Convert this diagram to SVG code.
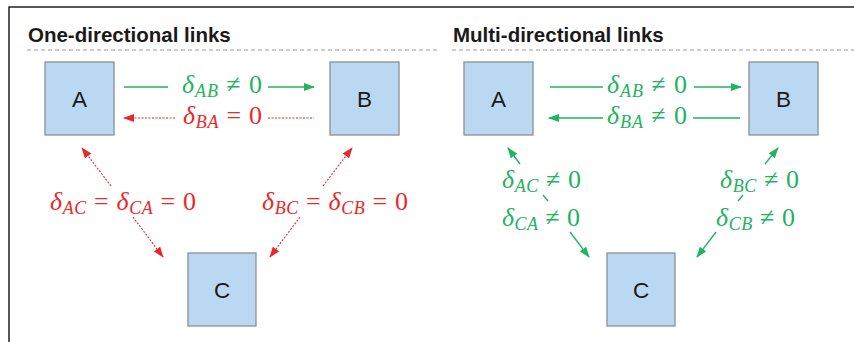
<svg xmlns="http://www.w3.org/2000/svg" width="854" height="342" viewBox="0 0 854 342">
<style>
.frame{fill:none;stroke:#222;stroke-width:1.5}
.sep{fill:none;stroke:#999;stroke-width:1.2;stroke-dasharray:4,3}
.title{font-family:"Liberation Sans",Arial,sans-serif;font-weight:bold;font-size:20.5px;fill:#1a1a1a}
.box{fill:#bad8f1;stroke:#8a9097;stroke-width:1.3}
.lbl{font-family:"Liberation Sans",Arial,sans-serif;font-size:22.5px;fill:#1a1a1a;text-anchor:middle}
.g{stroke:#22b35e;stroke-width:1.4;fill:none}
.r{stroke:#e8292a;stroke-width:1.1;fill:none;stroke-dasharray:2,1.5}
.m{font-family:"Liberation Serif","DejaVu Serif",serif;font-size:26px}
.mg{fill:#22b35e}
.mr{fill:#e8292a}
.i{font-style:italic}
.s{font-style:italic;font-size:18px}
</style>
<defs>
<marker id="ag" markerWidth="11" markerHeight="8" refX="10" refY="4" orient="auto" markerUnits="userSpaceOnUse"><path d="M0,0 L11,4 L0,8 Z" fill="#22b35e"/></marker>
<marker id="ar" markerWidth="11" markerHeight="8" refX="10" refY="4" orient="auto" markerUnits="userSpaceOnUse"><path d="M0,0 L11,4 L0,8 Z" fill="#e8292a"/></marker>
</defs>
<path class="frame" d="M9,342 V7 H854"/>
<line class="sep" x1="27" y1="50" x2="440" y2="50"/>
<line class="sep" x1="452" y1="50" x2="854" y2="50"/>
<text class="title" x="28" y="42">One-directional links</text>
<text class="title" x="453" y="42">Multi-directional links</text>
<g id="nodeA1"><rect class="box" x="45" y="62" width="69" height="73"/><text class="lbl" x="79.5" y="107">A</text></g>
<g id="nodeB1"><rect class="box" x="330" y="62" width="69" height="73"/><text class="lbl" x="364.5" y="107">B</text></g>
<g id="nodeC1"><rect class="box" x="188" y="253" width="68" height="73"/><text class="lbl" x="222" y="298">C</text></g>
<g id="nodeA2"><rect class="box" x="464" y="62" width="69" height="73"/><text class="lbl" x="498.5" y="107">A</text></g>
<g id="nodeB2"><rect class="box" x="749" y="62" width="69" height="73"/><text class="lbl" x="783.5" y="107">B</text></g>
<g id="nodeC2"><rect class="box" x="607" y="253" width="68" height="73"/><text class="lbl" x="641" y="298">C</text></g>
<g id="connectors">
<line class="g" x1="124" y1="87" x2="168" y2="87"/>
<line class="g" x1="268" y1="87" x2="314" y2="87" marker-end="url(#ag)"/>
<line class="r" x1="175" y1="118" x2="124" y2="118" marker-end="url(#ar)"/>
<line class="r" x1="268" y1="118" x2="314" y2="118"/>
<line class="r" x1="111" y1="186" x2="82" y2="148" marker-end="url(#ar)"/>
<line class="r" x1="133" y1="217" x2="163" y2="257" marker-end="url(#ar)"/>
<line class="r" x1="323" y1="186" x2="352" y2="148" marker-end="url(#ar)"/>
<line class="r" x1="300" y1="217" x2="270" y2="257" marker-end="url(#ar)"/>
<line class="g" x1="550" y1="87" x2="603" y2="87"/>
<line class="g" x1="694" y1="87" x2="741" y2="87" marker-end="url(#ag)"/>
<line class="g" x1="603" y1="118" x2="549" y2="118" marker-end="url(#ag)"/>
<line class="g" x1="693" y1="118" x2="740" y2="118"/>
<line class="g" x1="520" y1="164" x2="508" y2="148" marker-end="url(#ag)"/>
<line class="g" x1="543" y1="195" x2="548" y2="201"/>
<line class="g" x1="570" y1="232" x2="589" y2="257" marker-end="url(#ag)"/>
<line class="g" x1="765" y1="164" x2="778" y2="148" marker-end="url(#ag)"/>
<line class="g" x1="743" y1="195" x2="738" y2="201"/>
<line class="g" x1="716" y1="232" x2="697" y2="257" marker-end="url(#ag)"/>
</g>
<g id="labels">
<text class="m mg" x="182" y="93" textLength="80" lengthAdjust="spacing"><tspan class="i">δ</tspan><tspan class="s" dy="4">AB</tspan><tspan dy="-4"> ≠ 0</tspan></text>
<text class="m mr" x="183" y="124" textLength="79" lengthAdjust="spacing"><tspan class="i">δ</tspan><tspan class="s" dy="4">BA</tspan><tspan dy="-4"> = 0</tspan></text>
<text class="m mr" x="50" y="210" textLength="146" lengthAdjust="spacing"><tspan class="i">δ</tspan><tspan class="s" dy="4">AC</tspan><tspan dy="-4"> = </tspan><tspan class="i">δ</tspan><tspan class="s" dy="4">CA</tspan><tspan dy="-4"> = 0</tspan></text>
<text class="m mr" x="262" y="210" textLength="146" lengthAdjust="spacing"><tspan class="i">δ</tspan><tspan class="s" dy="4">BC</tspan><tspan dy="-4"> = </tspan><tspan class="i">δ</tspan><tspan class="s" dy="4">CB</tspan><tspan dy="-4"> = 0</tspan></text>
<text class="m mg" x="607" y="93" textLength="80" lengthAdjust="spacing"><tspan class="i">δ</tspan><tspan class="s" dy="4">AB</tspan><tspan dy="-4"> ≠ 0</tspan></text>
<text class="m mg" x="607" y="124" textLength="80" lengthAdjust="spacing"><tspan class="i">δ</tspan><tspan class="s" dy="4">BA</tspan><tspan dy="-4"> ≠ 0</tspan></text>
<text class="m mg" x="502" y="188" textLength="79" lengthAdjust="spacing"><tspan class="i">δ</tspan><tspan class="s" dy="4">AC</tspan><tspan dy="-4"> ≠ 0</tspan></text>
<text class="m mg" x="502" y="226" textLength="78" lengthAdjust="spacing"><tspan class="i">δ</tspan><tspan class="s" dy="4">CA</tspan><tspan dy="-4"> ≠ 0</tspan></text>
<text class="m mg" x="720" y="188" textLength="79" lengthAdjust="spacing"><tspan class="i">δ</tspan><tspan class="s" dy="4">BC</tspan><tspan dy="-4"> ≠ 0</tspan></text>
<text class="m mg" x="716" y="226" textLength="79" lengthAdjust="spacing"><tspan class="i">δ</tspan><tspan class="s" dy="4">CB</tspan><tspan dy="-4"> ≠ 0</tspan></text>
</g>
</svg>
